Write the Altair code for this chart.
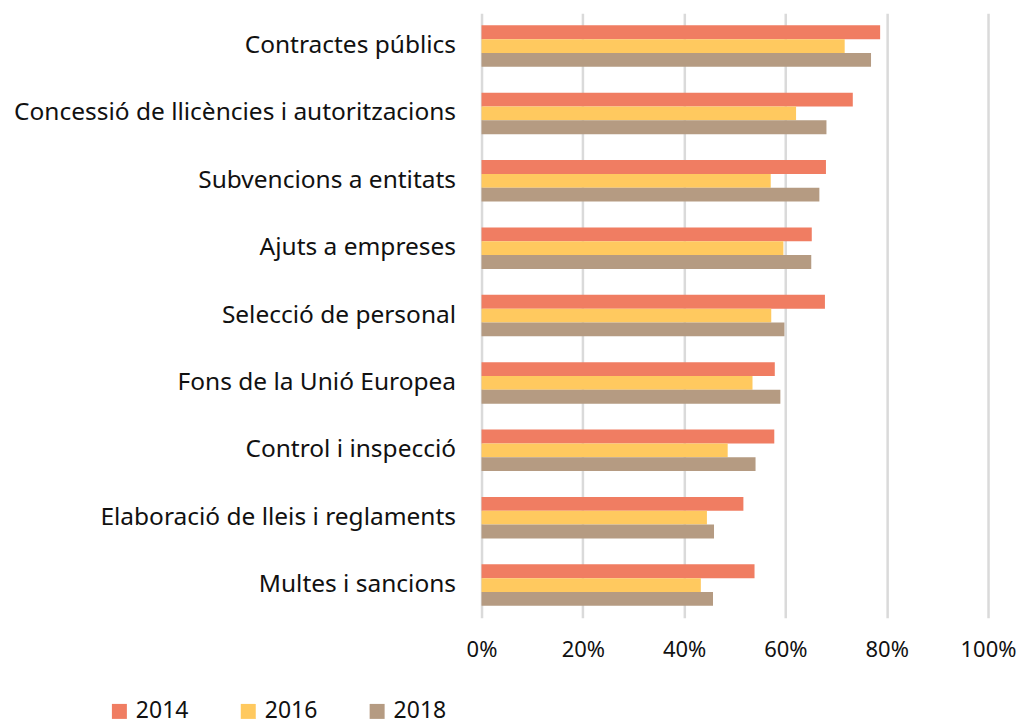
import altair as alt
import pandas as pd

categories = [
    "Contractes públics",
    "Concessió de llicències i autoritzacions",
    "Subvencions a entitats",
    "Ajuts a empreses",
    "Selecció de personal",
    "Fons de la Unió Europea",
    "Control i inspecció",
    "Elaboració de lleis i reglaments",
    "Multes i sancions",
]
years = ["2014", "2016", "2018"]
v2014 = [78.7, 73.3, 68.0, 65.2, 67.8, 57.9, 57.8, 51.7, 53.9]
v2016 = [71.7, 62.1, 57.1, 59.6, 57.2, 53.5, 48.6, 44.5, 43.3]
v2018 = [76.9, 68.1, 66.7, 65.1, 59.8, 59.0, 54.1, 45.9, 45.7]
colors = ["#F07D62", "#FFC95F", "#B59B82"]

rows = []
for yr, vals in zip(years, [v2014, v2016, v2018]):
    for c, v in zip(categories, vals):
        rows.append({"cat": c, "year": yr, "value": v / 100})
df = pd.DataFrame(rows)

FONT = "Noto Sans"

chart = alt.Chart(df).mark_bar().encode(
    y=alt.Y("cat:N", sort=categories, title=None,
            scale=alt.Scale(paddingInner=0.385, paddingOuter=0.178),
            axis=alt.Axis(labelFontSize=24.5, labelColor="#111111", labelPadding=26,
                          ticks=False, domain=False, labelLimit=600, labelFont=FONT)),
    x=alt.X("value:Q", title=None,
            scale=alt.Scale(domain=[0, 1], nice=False),
            axis=alt.Axis(format=".0%", values=[0, 0.2, 0.4, 0.6, 0.8, 1.0],
                          labelFontSize=22, labelColor="#111111", labelPadding=22,
                          labelFlush=False,
                          ticks=False, domain=False, grid=True, gridColor="#DADADA",
                          gridWidth=2.5, labelFont=FONT)),
    yOffset=alt.YOffset("year:N", sort=years),
    color=alt.Color("year:N", sort=years,
                    scale=alt.Scale(domain=years, range=colors),
                    legend=alt.Legend(orient="none", legendX=-374, legendY=687,
                                      direction="horizontal", title=None,
                                      symbolType="square", symbolSize=225,
                                      symbolStrokeWidth=0, labelFontSize=23,
                                      labelFont=FONT, labelColor="#111111",
                                      columnPadding=48, labelOffset=5)),
).properties(
    width=507, height=605,
    padding={"left": 5, "top": 5, "right": 0, "bottom": 0},
).configure_view(stroke=None)

chart.save("out.html", embed_options={"renderer": "svg", "actions": False})
